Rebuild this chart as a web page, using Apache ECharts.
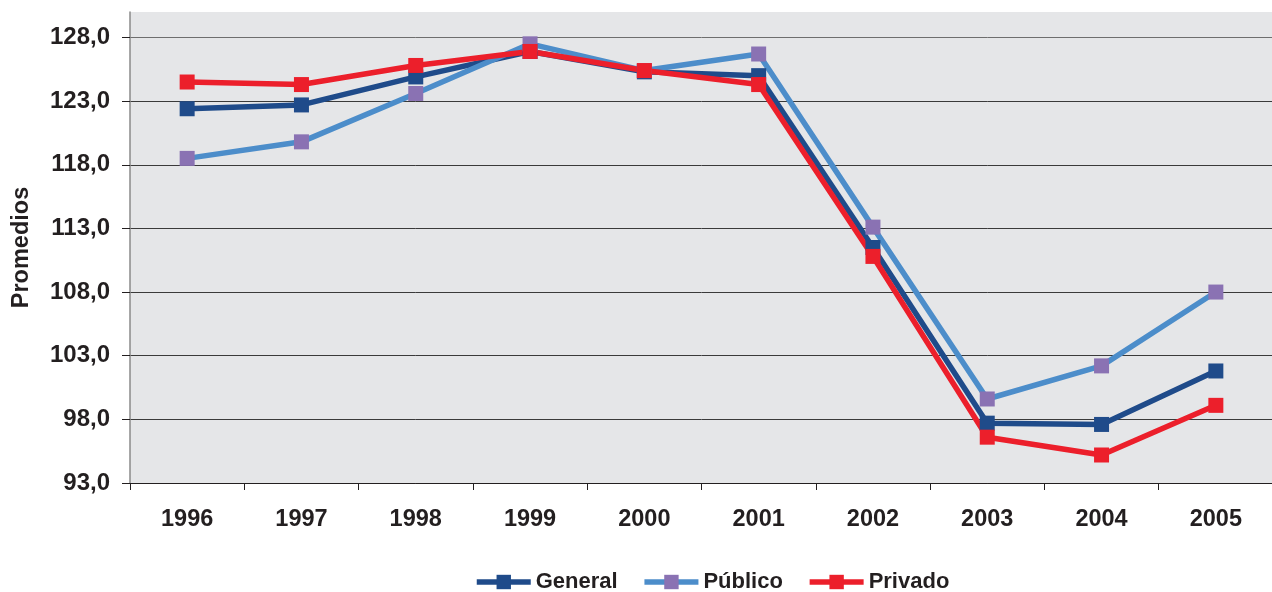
<!DOCTYPE html>
<html>
<head>
<meta charset="utf-8">
<script src="https://cdn.jsdelivr.net/npm/echarts@6/dist/echarts.min.js"></script>
<style>html,body{margin:0;padding:0;background:#fff}#c{width:1272px;height:592px}</style>
</head>
<body>
<div id="c"></div>
<script>
const years = ['1996','1997','1998','1999','2000','2001','2002','2003','2004','2005'];
const general = [122.4, 122.7, 124.9, 126.9, 125.3, 125.0, 111.5, 97.7, 97.6, 101.8];
const publico = [118.5, 119.8, 123.6, 127.5, 125.4, 126.7, 113.1, 99.6, 102.2, 108.0];
const privado = [124.5, 124.3, 125.8, 126.9, 125.4, 124.3, 110.8, 96.6, 95.2, 99.1];
const yTicks = [93, 98, 103, 108, 113, 118, 123, 128];

const font = '"Liberation Sans", Arial, sans-serif';
const chart = echarts.init(document.getElementById('c'), null, {renderer: 'canvas'});
function mk(name, data, lineColor, markColor) {
  return {
    name, type: 'line', data,
    symbol: 'rect', symbolSize: 15,
    lineStyle: {color: lineColor, width: 5.5},
    itemStyle: {color: markColor},
    emphasis: {disabled: true},
    animation: false
  };
}
chart.setOption({
  animation: false,
  grid: {left: 130, right: -1, top: 12, bottom: 109, show: true, backgroundColor: '#E5E6E8', borderWidth: 0,
         containLabel: false, outerBoundsMode: 'none'},
  legend: {
    top: 566, left: 469,
    itemWidth: 54, itemHeight: 18, itemGap: 24,
    lineStyle: {width: 5.5},
    textStyle: {fontFamily: font, fontWeight: 'bold', fontSize: 22, color: '#231F20'},
    data: ['General', 'Público', 'Privado']
  },
  xAxis: {
    type: 'category', data: years, boundaryGap: true,
    axisLine: {lineStyle: {color: '#231F20', width: 1}},
    axisTick: {show: true, length: 7, lineStyle: {color: '#231F20'}},
    axisLabel: {fontFamily: font, fontWeight: 'bold', fontSize: 23.5, color: '#231F20', margin: 25},
    splitLine: {show: false}
  },
  yAxis: {
    type: 'value', min: 93, max: 130, interval: 5,
    name: 'Promedios', nameLocation: 'middle', nameRotate: 90, nameGap: 96,
    nameTextStyle: {fontFamily: font, fontWeight: 'bold', fontSize: 23.5, color: '#231F20'},
    axisLine: {show: true, lineStyle: {color: '#8a8a8a', width: 1.5}},
    axisTick: {show: true, length: 8, lineStyle: {color: '#231F20'}, customValues: yTicks},
    axisLabel: {
      fontFamily: font, fontWeight: 'bold', fontSize: 24, color: '#231F20', margin: 20,
      customValues: yTicks,
      formatter: v => yTicks.indexOf(v) >= 0 ? v.toFixed(1).replace('.', ',') : ''
    },
    splitLine: {show: true, lineStyle: {color: ['#3a3a3a','#3a3a3a','#3a3a3a','#3a3a3a','#3a3a3a','#3a3a3a','#3a3a3a','#6e6e6e','rgba(0,0,0,0)'], width: 1}}
  },
  series: [
    mk('General', general, '#1F4B8A', '#1F4B8A'),
    mk('Público', publico, '#4C8DCA', '#8A72B3'),
    mk('Privado', privado, '#EC1F2B', '#EC1F2B')
  ]
});
</script>
</body>
</html>
